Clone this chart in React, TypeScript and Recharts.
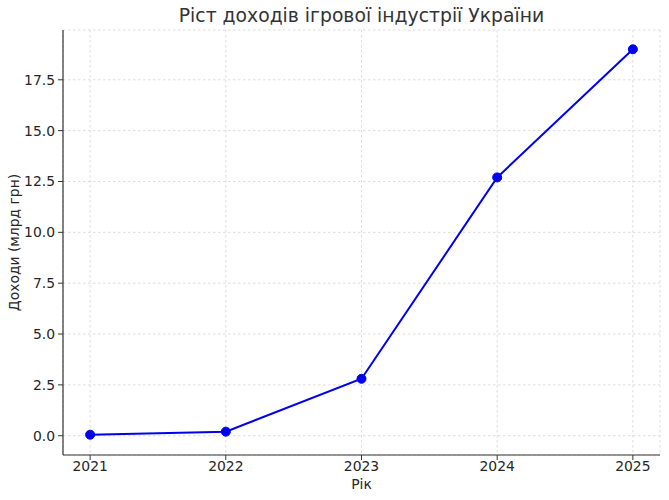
import React from "react"
import {
  LineChart,
  Line,
  XAxis,
  YAxis,
  CartesianGrid,
  Label,
} from "recharts"

const years = [2021, 2022, 2023, 2024, 2025]
const revenue = [0.05, 0.2, 2.8, 12.7, 19.0]
const yTicks = [0, 2.5, 5, 7.5, 10, 12.5, 15, 17.5]

const data = years.map((year, i) => ({ year, revenue: revenue[i] }))

const FONT = "DejaVu Sans, sans-serif"
const TEXT = "#262626"

export default function App() {
  return (
    <div style={{ position: "absolute", left: 0, top: 0, fontFamily: FONT }}>
      <div
        style={{
          position: "absolute",
          top: 5,
          left: 63,
          width: 597,
          textAlign: "center",
          fontSize: 18.8,
          color: "#333",
        }}
      >
        Ріст доходів ігрової індустрії України
      </div>
      <LineChart
        width={669}
        height={500}
        data={data}
        margin={{ top: 30, right: 9, bottom: 0, left: 8 }}
      >
        <CartesianGrid stroke="#cfcfcf" strokeDasharray="2.5 2.5" strokeWidth={0.7} />
        <XAxis
          dataKey="year"
          type="number"
          domain={[2020.8, 2025.2]}
          ticks={years}
          height={45}
          axisLine={{ stroke: "#333", strokeWidth: 1.2 }}
          tickLine={{ stroke: "#333" }}
          tickSize={5}
          tickMargin={1}
          tick={{ fill: TEXT, fontSize: 13.9, fontFamily: FONT }}
        >
          <Label
            value="Рік"
            position="insideBottom"
            offset={11}
            style={{ fill: TEXT, fontSize: 13.9, fontFamily: FONT }}
          />
        </XAxis>
        <YAxis
          type="number"
          domain={[-0.9475, 19.9475]}
          ticks={yTicks}
          width={55}
          axisLine={{ stroke: "#333", strokeWidth: 1.2 }}
          tickLine={{ stroke: "#333" }}
          tickSize={5}
          tickMargin={3}
          tickFormatter={(v: number) => v.toFixed(1)}
          tick={{ fill: TEXT, fontSize: 13.9, fontFamily: FONT }}
        >
          <Label
            value="Доходи (млрд грн)"
            angle={-90}
            position="insideLeft"
            offset={6}
            style={{ fill: TEXT, fontSize: 13.9, fontFamily: FONT, textAnchor: "middle" }}
          />
        </YAxis>
        <Line
          type="linear"
          dataKey="revenue"
          stroke="#0000ee"
          strokeWidth={2}
          dot={{ r: 4.5, fill: "#0000ee", stroke: "#0000ee", strokeWidth: 1 }}
          isAnimationActive={false}
        />
      </LineChart>
    </div>
  )
}
